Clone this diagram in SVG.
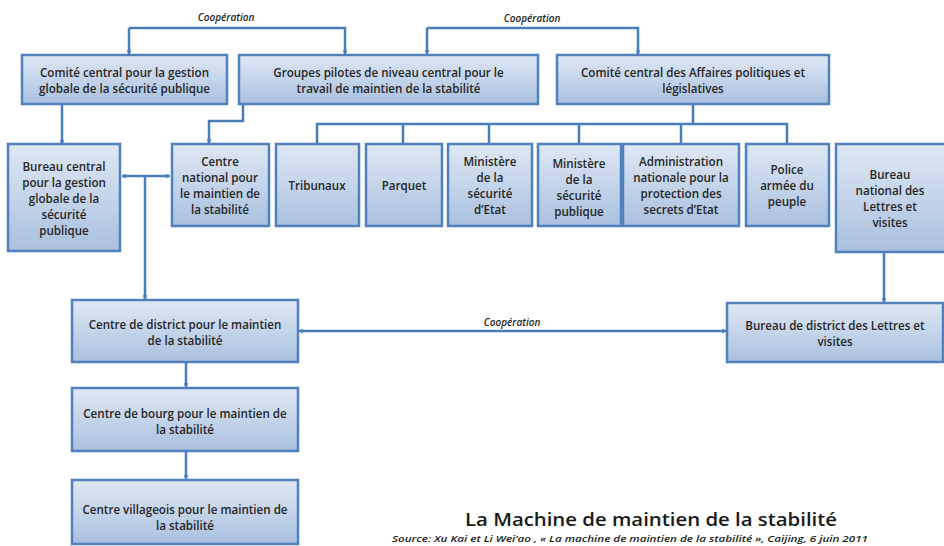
<svg xmlns="http://www.w3.org/2000/svg" width="944" height="546" viewBox="0 0 944 546">
<defs>
<linearGradient id="g" x1="0" y1="0" x2="0" y2="1">
<stop offset="0" stop-color="#dfe8f4"/>
<stop offset="1" stop-color="#a9c0df"/>
</linearGradient>
<marker id="ah" viewBox="0 0 10 10" refX="9" refY="5" markerWidth="5" markerHeight="5" orient="auto-start-reverse" markerUnits="userSpaceOnUse">
<polyline points="1,1 9,5 1,9" fill="none" stroke="#4a7ebb" stroke-width="2"/>
</marker>
<style>
.box{fill:url(#g);stroke:#4f81bd;stroke-width:2.5}
.t{font-family:"Open Sans","Liberation Sans",Arial,sans-serif;font-size:11.6px;font-weight:600;fill:#262626;text-anchor:middle;dominant-baseline:central}
.c{font-family:"Open Sans","Liberation Sans",Arial,sans-serif;font-size:10px;font-weight:600;font-style:italic;fill:#262626;text-anchor:middle;dominant-baseline:central}
.ln{fill:none;stroke:#4a7ebb;stroke-width:2.5}
.ar{fill:none;stroke:#4a7ebb;stroke-width:2.5;marker-end:url(#ah)}
.ar2{fill:none;stroke:#4a7ebb;stroke-width:2.5;marker-start:url(#ah);marker-end:url(#ah)}
</style>
</defs>
<rect width="944" height="546" fill="#ffffff"/>

<g id="connectors">
<path class="ar" d="M129,28 H345 V54"/>
<path class="ar" d="M129,28 V54"/>
<path class="ar" d="M427,28 H638 V54"/>
<path class="ar" d="M427,28 V54"/>
<path class="ar" d="M62,104 V144"/>
<path class="ar" d="M243,104 V121 H209 V143"/>
<path class="ln" d="M693,104 V124"/>
<path class="ln" d="M317,144 V124 H787 V144"/>
<path class="ln" d="M403,124 V144 M489,124 V144 M579,124 V144 M681,124 V144"/>
<path class="ar2" d="M122,176 H170"/>
<path class="ar" d="M145,176 V299"/>
<path class="ar2" d="M299,331 H726"/>
<path class="ar" d="M884,252 V302"/>
<path class="ar" d="M186,362 V387"/>
<path class="ar" d="M186,452 V479"/>
</g>

<g id="labels">
<text class="c" x="226" y="17">Coopération</text>
<text class="c" x="532" y="18">Coopération</text>
<text class="c" x="512" y="322">Coopération</text>
</g>

<g id="n1"><rect class="box" x="22" y="55" width="205" height="49"/>
<text class="t" x="124.5" y="72">Comité central pour la gestion</text>
<text class="t" x="124.5" y="88">globale de la sécurité publique</text></g>

<g id="n2"><rect class="box" x="239" y="55" width="299" height="49"/>
<text class="t" x="388.5" y="72">Groupes pilotes de niveau central pour le</text>
<text class="t" x="388.5" y="88">travail de maintien de la stabilité</text></g>

<g id="n3"><rect class="box" x="557" y="55" width="272" height="49"/>
<text class="t" x="693" y="72">Comité central des Affaires politiques et</text>
<text class="t" x="693" y="88">législatives</text></g>

<g id="n4"><rect class="box" x="8" y="144" width="112" height="107"/>
<text class="t" x="64" y="166.5">Bureau central</text>
<text class="t" x="64" y="182.5">pour la gestion</text>
<text class="t" x="64" y="198.5">globale de la</text>
<text class="t" x="64" y="214.5">sécurité</text>
<text class="t" x="64" y="230.5">publique</text></g>

<g id="n5"><rect class="box" x="172" y="144" width="97" height="82"/>
<text class="t" x="220" y="161">Centre</text>
<text class="t" x="220" y="177">national pour</text>
<text class="t" x="220" y="193">le maintien de</text>
<text class="t" x="220" y="209">la stabilité</text></g>

<g id="n6"><rect class="box" x="276" y="144" width="83" height="82"/>
<text class="t" x="317" y="185">Tribunaux</text></g>

<g id="n7"><rect class="box" x="366" y="144" width="76" height="82"/>
<text class="t" x="404" y="185">Parquet</text></g>

<g id="n8"><rect class="box" x="448" y="144" width="84" height="82"/>
<text class="t" x="490" y="161">Ministère</text>
<text class="t" x="490" y="177">de la</text>
<text class="t" x="490" y="193">sécurité</text>
<text class="t" x="490" y="209">d’Etat</text></g>

<g id="n9"><rect class="box" x="538" y="144" width="83" height="82"/>
<text class="t" x="579" y="163">Ministère</text>
<text class="t" x="579" y="179">de la</text>
<text class="t" x="579" y="195">sécurité</text>
<text class="t" x="579" y="211">publique</text></g>

<g id="n10"><rect class="box" x="623" y="144" width="116" height="82"/>
<text class="t" x="681" y="161">Administration</text>
<text class="t" x="681" y="177">nationale  pour la</text>
<text class="t" x="681" y="193">protection des</text>
<text class="t" x="681" y="209">secrets d’Etat</text></g>

<g id="n11"><rect class="box" x="746" y="144" width="83" height="82"/>
<text class="t" x="787" y="169.5">Police</text>
<text class="t" x="787" y="185.5">armée du</text>
<text class="t" x="787" y="201.5">peuple</text></g>

<g id="n12"><rect class="box" x="836" y="144" width="110" height="108"/>
<text class="t" x="890" y="174">Bureau</text>
<text class="t" x="890" y="190">national des</text>
<text class="t" x="890" y="206">Lettres et</text>
<text class="t" x="890" y="222">visites</text></g>

<g id="n13"><rect class="box" x="72" y="300" width="226" height="62"/>
<text class="t" x="185" y="324">Centre de district pour le maintien</text>
<text class="t" x="185" y="340">de la stabilité</text></g>

<g id="n14"><rect class="box" x="727" y="303" width="216" height="59"/>
<text class="t" x="835" y="325">Bureau de district des Lettres et</text>
<text class="t" x="835" y="341">visites</text></g>

<g id="n15"><rect class="box" x="72" y="388" width="226" height="63"/>
<text class="t" x="185" y="413">Centre de bourg pour le maintien de</text>
<text class="t" x="185" y="429">la stabilité</text></g>

<g id="n16"><rect class="box" x="72" y="480" width="226" height="64"/>
<text class="t" x="185" y="509">Centre villageois  pour le maintien de</text>
<text class="t" x="185" y="525">la stabilité</text></g>

<g id="title">
<text x="651" y="526" font-family="'Open Sans','Liberation Sans',Arial,sans-serif" font-size="18.5" font-weight="600" fill="#1a1a1a" text-anchor="middle" textLength="372" lengthAdjust="spacingAndGlyphs">La Machine de maintien de la stabilité</text>
<text x="630" y="542" font-family="'Open Sans','Liberation Sans',Arial,sans-serif" font-size="9" font-weight="600" font-style="italic" fill="#1a1a1a" text-anchor="middle" textLength="476" lengthAdjust="spacingAndGlyphs">Source: Xu Kai et Li Wei’ao , « La machine de maintien de la stabilité », Caijing, 6 juin 2011</text>
</g>
</svg>
